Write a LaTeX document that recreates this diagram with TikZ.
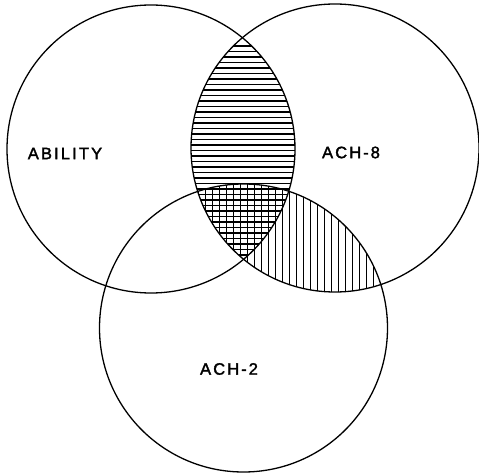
\documentclass[tikz,border=0pt]{standalone}
\usepackage{fontspec}
\setmainfont{Liberation Sans}
\newfontfamily\lblfont[LetterSpace=13,FakeBold=2]{Liberation Sans}
\begin{document}
\begin{tikzpicture}[x=1pt,y=-1pt,
  setcircle/.style={circle, draw, line width=1.3pt, minimum size=288pt, inner sep=0pt},
  hatch/.style={line width=1.1pt},
  lbl/.style={font=\lblfont\fontsize{16.5}{16.5}\selectfont, inner sep=0pt}]
\useasboundingbox (0,0) rectangle (479,473);
\begin{scope}
  \clip (151,149) circle[radius=144pt];
  \clip (335,148) circle[radius=144pt];
  \foreach \y in {46,51.5,...,264} \draw[hatch] (185,\y) -- (305,\y);
\end{scope}
\begin{scope}
  \clip (335,148) circle[radius=144pt];
  \clip (243.5,328) circle[radius=144pt];
  \foreach \x in {198.5,205.5,...,392} \draw[hatch] (\x,175) -- (\x,300);
\end{scope}
\node[setcircle] (ability) at (151,149) {};
\node[setcircle] (ach8) at (335,148) {};
\node[setcircle] (ach2) at (243.5,328) {};
\node[lbl] (tA) at (65,153.5) {ABILITY};
\node[lbl] (t8) at (351,152.5) {ACH\hspace{2pt}-\hspace{2pt}8};
\node[lbl] (t2) at (229,369) {ACH\hspace{2pt}-\hspace{2pt}2};
\end{tikzpicture}
\end{document}
